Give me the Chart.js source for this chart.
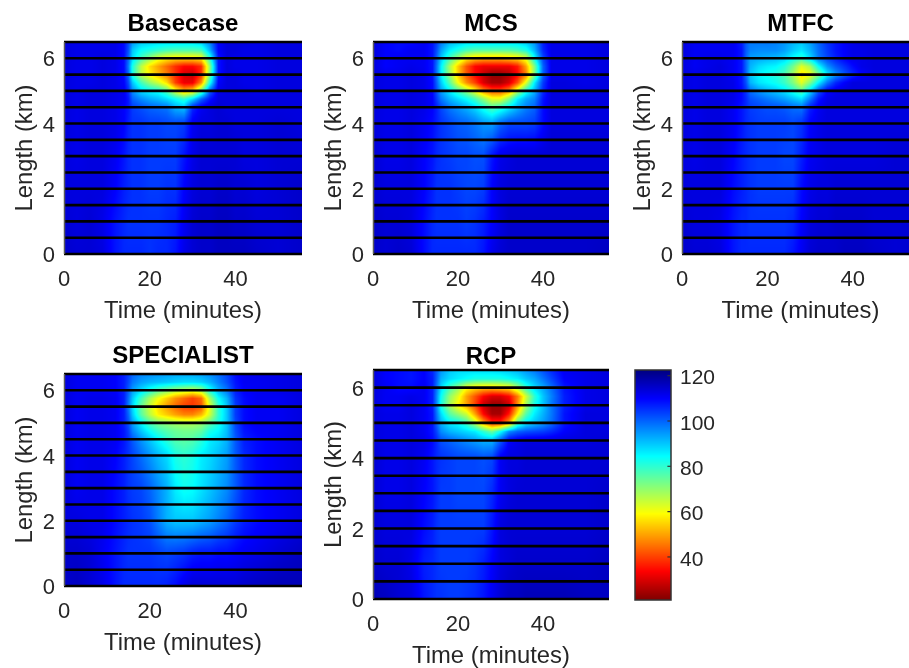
<!DOCTYPE html>
<html>
<head>
<meta charset="utf-8">
<script src="https://cdn.jsdelivr.net/npm/chart.js@4/dist/chart.umd.min.js"></script>
<style>
html, body { margin: 0; padding: 0; background: #fff; width: 909px; height: 668px; overflow: hidden; }
canvas { position: absolute; display: block; }
</style>
</head>
<body>
<script>
// columns of every grid (minutes) and rows (km), rows run bottom to top
const timeMin = [0,3,6,9,12,14,15,16,18,20,22,24,26,28,30,32,34,36,38,40,42,45,50,55.5];
const lengthKm = [0,1,2,3,4,4.5,4.75,5,5.25,5.5,5.75,6,6.25,6.5];
const detectorKm = [0,0.5,1,1.5,2,2.5,3,3.5,4,4.5,5,5.5,6,6.5];
const timeTicks = [0,20,40];
const lengthTicks = [0,2,4,6];
const speedTicks = [40,60,80,100,120];
const speedRange = [21,122.5];

const basecaseSpeed = [
[115,114,114,113,108,106,106,106,106,105,106,106,108,112,114,115,115,116,116,116,116,115,114,115],
[114,113,114,112,108,106,105,105,105,105,105,106,107,111,114,115,115,116,116,115,115,114,114,115],
[113,113,113,113,110,107,106,105,105,104,104,105,105,110,113,114,114,115,115,114,114,113,114,115],
[113,112,113,113,111,108,106,105,105,104,104,104,104,108,112,114,114,114,114,114,113,113,114,114],
[113,112,113,113,112,110,107,105,105,104,104,103,103,104,111,113,113,114,114,113,113,113,114,113],
[113,112,113,113,112,110,108,104,102,100,99,98,92,90,106,111,113,114,113,113,113,113,113,113],
[113,112,113,113,112,111,108,100,96,93,91,88,84,80,88,100,108,113,113,113,113,113,113,113],
[113,112,113,113,112,111,106,96,88,85,83,76,62,52,56,74,100,112,113,113,113,112,113,113],
[113,112,112,113,112,110,103,90,78,70,64,56,40,32,32,48,82,110,113,113,112,112,113,113],
[113,112,112,113,112,109,100,82,66,58,52,46,38,30,28,38,72,108,113,113,112,112,113,113],
[113,112,112,113,112,109,98,82,66,56,50,44,38,34,34,38,70,108,113,112,112,112,113,113],
[113,112,112,113,112,109,100,88,78,70,62,58,56,56,56,58,80,108,113,112,112,112,113,113],
[113,112,112,112,112,109,102,90,84,82,80,78,77,77,77,78,92,110,113,113,112,112,113,113],
[113,112,112,112,112,109,103,95,90,89,88,88,88,88,88,90,97,110,113,113,113,112,113,113]
];
const mcsSpeed = [
[115,114,115,114,109,106,106,106,106,106,106,106,108,112,114,115,115,115,115,115,115,115,115,116],
[115,114,114,113,109,106,105,105,105,105,104,105,107,110,113,115,115,115,115,115,115,115,115,115],
[114,113,113,113,110,107,105,105,105,104,103,103,104,110,113,114,114,114,114,114,114,114,114,114],
[114,112,112,113,110,108,106,105,104,103,103,102,102,108,112,113,114,114,114,114,114,114,114,114],
[113,112,112,113,111,109,107,105,103,101,100,98,95,94,100,103,103,103,104,109,113,113,113,113],
[113,112,112,113,112,110,107,103,98,95,92,88,82,76,80,86,92,97,100,109,113,113,113,113],
[113,112,112,113,112,110,104,98,92,88,84,78,70,62,62,72,86,93,97,108,113,113,113,113],
[113,112,112,113,112,109,102,94,86,78,70,60,48,42,42,48,66,82,92,106,113,113,113,113],
[113,112,112,113,112,109,100,90,76,60,48,40,30,25,25,30,42,62,86,104,113,113,112,113],
[113,112,112,113,112,108,98,86,70,54,42,34,28,23,23,26,34,46,72,100,112,112,112,113],
[113,110,111,112,111,108,98,86,68,54,42,34,32,32,32,32,36,50,72,100,112,112,112,113],
[113,110,111,111,111,108,100,90,78,68,58,54,52,52,52,54,56,62,84,103,112,112,112,113],
[113,110,109,111,111,108,102,94,86,82,78,76,76,76,76,76,78,82,92,106,112,112,112,113],
[113,110,109,109,111,108,104,98,92,90,88,88,88,88,88,88,88,90,95,107,112,112,112,113]
];
const mtfcSpeed = [
[115,114,114,113,108,106,106,106,106,106,106,106,108,111,114,115,115,115,116,116,116,115,114,115],
[114,113,113,112,108,106,106,105,105,105,105,105,106,110,113,114,114,115,115,115,115,114,114,114],
[113,113,113,113,109,107,106,105,104,104,104,104,104,109,112,113,113,114,114,114,114,114,114,114],
[113,112,113,113,110,107,106,105,104,104,104,103,103,107,111,112,113,113,113,113,113,113,114,114],
[113,112,113,113,111,108,106,105,104,104,104,104,103,105,110,112,113,113,113,113,113,113,113,113],
[113,112,113,113,111,108,106,104,103,102,102,101,99,98,107,111,113,113,113,113,113,113,113,113],
[113,112,113,113,112,109,106,102,100,98,96,94,91,88,98,108,112,113,113,113,113,113,113,113],
[113,112,113,113,112,109,105,99,95,92,90,87,82,76,88,102,110,112,113,113,113,113,113,113],
[113,112,113,113,112,108,102,92,87,85,83,79,72,62,72,86,98,106,110,113,113,113,113,113],
[113,112,113,113,111,108,100,90,85,83,81,77,68,56,60,72,86,95,101,106,110,113,113,113],
[113,111,112,113,111,108,100,92,88,86,85,81,73,62,68,84,95,101,105,109,112,113,113,113],
[113,111,112,112,111,108,100,94,93,92,91,89,84,80,88,98,103,107,110,112,112,113,113,113],
[113,111,111,111,111,108,101,97,96,96,96,94,90,87,92,99,104,108,110,112,112,113,113,113],
[113,111,111,111,111,107,101,98,98,98,97,95,92,90,94,100,105,108,110,112,113,113,113,113]
];
const specialistSpeed = [
[115,116,114,112,108,106,106,106,106,106,106,107,109,112,114,114,114,114,114,114,115,116,117,117],
[115,115,114,111,108,106,105,105,105,105,104,103,104,105,107,108,108,109,109,110,111,112,114,116],
[113,113,112,112,109,107,106,105,104,102,97,92,90,90,90,92,94,97,100,104,107,109,111,113],
[113,111,112,112,109,107,105,104,103,100,96,92,86,83,84,87,90,93,96,101,106,109,111,113],
[113,111,112,112,110,107,105,103,99,95,91,88,82,80,82,86,88,91,94,101,106,109,111,113],
[113,111,112,112,111,108,105,101,95,90,85,80,76,75,76,80,86,88,92,101,107,109,111,113],
[113,111,112,112,111,108,104,97,90,84,79,76,74,73,73,75,82,85,91,102,108,110,111,113],
[113,111,112,112,111,107,102,94,85,77,72,70,68,67,67,69,75,82,90,103,109,111,111,113],
[113,111,112,112,111,107,100,90,76,66,58,54,50,47,47,52,64,80,90,104,109,111,111,113],
[113,111,112,112,111,107,98,88,74,64,55,49,44,40,39,42,62,80,90,104,109,111,111,113],
[113,111,112,112,111,107,99,90,78,68,60,54,48,44,40,44,68,84,92,105,109,111,111,113],
[113,111,111,111,110,107,101,94,88,82,76,72,68,66,64,68,82,92,98,107,110,111,112,113],
[113,111,111,111,110,107,103,98,94,92,91,90,89,88,88,89,92,97,102,108,111,111,112,113],
[113,111,111,111,110,107,104,100,97,96,95,94,93,93,93,94,96,99,103,109,111,112,112,113]
];
const rcpSpeed = [
[117,116,114,113,108,106,105,105,104,104,105,106,108,111,114,116,116,117,117,117,117,117,116,116],
[115,114,114,112,107,106,105,104,104,104,104,105,107,110,113,114,115,115,115,115,115,115,115,116],
[114,113,113,113,109,107,105,104,104,104,104,104,104,108,113,114,114,114,114,114,114,114,114,115],
[114,112,112,113,110,108,106,104,104,103,103,103,103,106,111,113,114,114,114,114,114,114,114,115],
[114,112,112,113,111,108,106,105,104,103,103,103,102,103,111,113,113,114,114,114,114,114,114,114],
[113,112,112,113,112,109,106,102,100,98,96,94,92,92,101,110,112,113,113,113,113,113,113,114],
[113,112,112,113,111,108,103,96,92,90,88,86,80,74,84,96,100,102,103,104,106,110,113,113],
[113,112,112,113,111,108,100,92,86,84,78,66,50,38,38,50,76,86,90,94,99,108,113,113],
[113,112,112,113,111,108,98,88,76,70,64,50,34,25,25,36,58,76,86,92,98,108,113,113],
[113,111,111,113,111,107,96,82,68,58,50,40,28,23,23,28,48,68,82,90,98,107,112,113],
[113,111,111,112,111,107,96,84,70,62,50,42,34,30,30,34,46,64,80,90,97,107,112,113],
[113,111,109,109,111,107,98,88,78,70,60,56,54,54,56,58,68,80,88,93,99,108,112,113],
[113,110,109,108,110,107,100,92,88,86,84,82,82,82,82,84,86,90,93,98,103,110,112,113],
[113,110,109,108,110,106,101,95,90,88,88,88,88,88,89,90,92,95,98,102,106,111,112,113]
];

const FONT = "'Liberation Sans', Arial, sans-serif";
const TEXT = "#262626";
Chart.defaults.animation = false;
Chart.defaults.responsive = false;
Chart.defaults.font.family = FONT;

// reversed jet over the colourbar range
function jet(v) {
    const t = 1 - (v - speedRange[0]) / (speedRange[1] - speedRange[0]);
    const ramp = (d) => Math.max(0, Math.min(1, 1.5 - Math.abs(4 * t - d)));
    return [ramp(3) * 255, ramp(2) * 255, ramp(1) * 255];
}

function bracket(list, v) {
    let i = 0;
    while (i < list.length - 2 && v > list[i + 1]) i++;
    const f = (v - list[i]) / (list[i + 1] - list[i]);
    return [i, Math.max(0, Math.min(1, f))];
}

// shaded like pcolor with interp: each pixel is mapped back through the chart scales
const speedShade = {
    id: "speedShade",
    beforeDatasetsDraw(chart, args, opts) {
        const area = chart.chartArea;
        const w = Math.round(area.right - area.left);
        const h = Math.round(area.bottom - area.top);
        const img = chart.ctx.createImageData(w, h);
        const xs = chart.scales.x, ys = chart.scales.y;
        for (let py = 0; py < h; py++) {
            const yv = ys.getValueForPixel(area.top + py + 0.5);
            for (let px = 0; px < w; px++) {
                let v = yv;
                if (opts.grid) {
                    const xv = xs.getValueForPixel(area.left + px + 0.5);
                    const [c, fc] = bracket(timeMin, xv);
                    const [r, fr] = bracket(lengthKm, yv);
                    const low = opts.grid[r][c] * (1 - fc) + opts.grid[r][c + 1] * fc;
                    const high = opts.grid[r + 1][c] * (1 - fc) + opts.grid[r + 1][c + 1] * fc;
                    v = low * (1 - fr) + high * fr;
                }
                const col = jet(v);
                const k = (py * w + px) * 4;
                img.data[k] = col[0];
                img.data[k + 1] = col[1];
                img.data[k + 2] = col[2];
                img.data[k + 3] = 255;
            }
        }
        chart.ctx.putImageData(img, Math.round(area.left), Math.round(area.top));
    },
    afterDatasetsDraw(chart, args, opts) {
        const area = chart.chartArea;
        const ctx = chart.ctx;
        if (opts.frame) {
            ctx.strokeStyle = opts.frame;
            ctx.lineWidth = 1.5;
            ctx.strokeRect(area.left, area.top, area.right - area.left, area.bottom - area.top);
        }
        if (opts.axisLine) {
            ctx.strokeStyle = opts.axisLine;
            ctx.lineWidth = 1.5;
            ctx.beginPath();
            ctx.moveTo(area.left + 0.5, area.top);
            ctx.lineTo(area.left + 0.5, area.bottom);
            ctx.stroke();
        }
    }
};
Chart.register(speedShade);

function addCanvas(left, top, width, height) {
    const c = document.createElement("canvas");
    c.width = width;
    c.height = height;
    c.style.left = left + "px";
    c.style.top = top + "px";
    document.body.appendChild(c);
    return c;
}

function fixedTicks(values) {
    return (scale) => { scale.ticks = values.map((v) => ({ value: v })); };
}

function heatPanel(name, grid, plot) {
    const titleGap = plot.titleGap;
    const top = plot.top - 26 - titleGap;
    const height = plot.bottom + 72 - top;
    const canvas = addCanvas(plot.left - 64, top, plot.right - plot.left + 64, height);

    new Chart(canvas, {
        type: "scatter",
        data: {
            datasets: detectorKm.map((km) => ({
                data: [{ x: timeMin[0], y: km }, { x: timeMin[timeMin.length - 1], y: km }],
                showLine: true,
                borderColor: "#000",
                borderWidth: 2.6,
                pointRadius: 0,
                clip: false
            }))
        },
        options: {
            layout: { padding: 0 },
            plugins: {
                legend: { display: false },
                tooltip: { enabled: false },
                title: {
                    display: true,
                    text: name,
                    fullSize: false,
                    color: "#000",
                    font: { size: 24, weight: "bold", lineHeight: 1 },
                    padding: { top: 2, bottom: titleGap }
                },
                speedShade: { grid: grid, axisLine: "#5a5a5a" }
            },
            scales: {
                x: {
                    type: "linear",
                    min: 0,
                    max: 55.5,
                    afterBuildTicks: fixedTicks(timeTicks),
                    afterFit: (s) => { s.height = 72; },
                    grid: { display: false, drawTicks: false },
                    border: { display: false },
                    ticks: { color: TEXT, font: { size: 22 }, padding: 13, maxRotation: 0 },
                    title: { display: true, text: "Time (minutes)", color: TEXT, font: { size: 23.8 }, padding: 0 }
                },
                y: {
                    type: "linear",
                    min: 0,
                    max: 6.5,
                    afterBuildTicks: fixedTicks(lengthTicks),
                    afterFit: (s) => { s.width = 64; },
                    grid: { display: false, drawTicks: false },
                    border: { display: false },
                    ticks: { color: TEXT, font: { size: 22 }, padding: 9, labelOffset: 2 },
                    title: { display: true, text: "Length (km)", color: TEXT, font: { size: 23.8 }, padding: { top: 11, bottom: 0 } }
                }
            }
        }
    });
}

heatPanel("Basecase", basecaseSpeed, { left: 64, right: 302, top: 42, bottom: 254, titleGap: 6 });
heatPanel("MCS", mcsSpeed, { left: 373, right: 609, top: 42, bottom: 254, titleGap: 6 });
heatPanel("MTFC", mtfcSpeed, { left: 682, right: 919, top: 42, bottom: 254, titleGap: 6 });
heatPanel("SPECIALIST", specialistSpeed, { left: 64, right: 302, top: 374, bottom: 586, titleGap: 6 });
heatPanel("RCP", rcpSpeed, { left: 373, right: 609, top: 370, bottom: 599, titleGap: 1 });

// colourbar, same colour map with speed on its own y axis
new Chart(addCanvas(630, 340, 100, 290), {
    type: "scatter",
    data: {
        datasets: speedTicks.map((v) => ({
            data: [{ x: 0.9, y: v }, { x: 1, y: v }],
            showLine: true,
            borderColor: "#333",
            borderWidth: 1.2,
            pointRadius: 0
        }))
    },
    options: {
        layout: { padding: { left: 5, top: 30, bottom: 30, right: 0 } },
        plugins: {
            legend: { display: false },
            tooltip: { enabled: false },
            speedShade: { frame: "#333" }
        },
        scales: {
            x: { type: "linear", min: 0, max: 1, display: false },
            y: {
                type: "linear",
                position: "right",
                min: speedRange[0],
                max: speedRange[1],
                afterBuildTicks: fixedTicks(speedTicks),
                afterFit: (s) => { s.width = 59; },
                grid: { display: false, drawTicks: false },
                border: { display: false },
                ticks: { color: TEXT, font: { size: 21 }, padding: 9, labelOffset: 3 }
            }
        }
    }
});
</script>
</body>
</html>
